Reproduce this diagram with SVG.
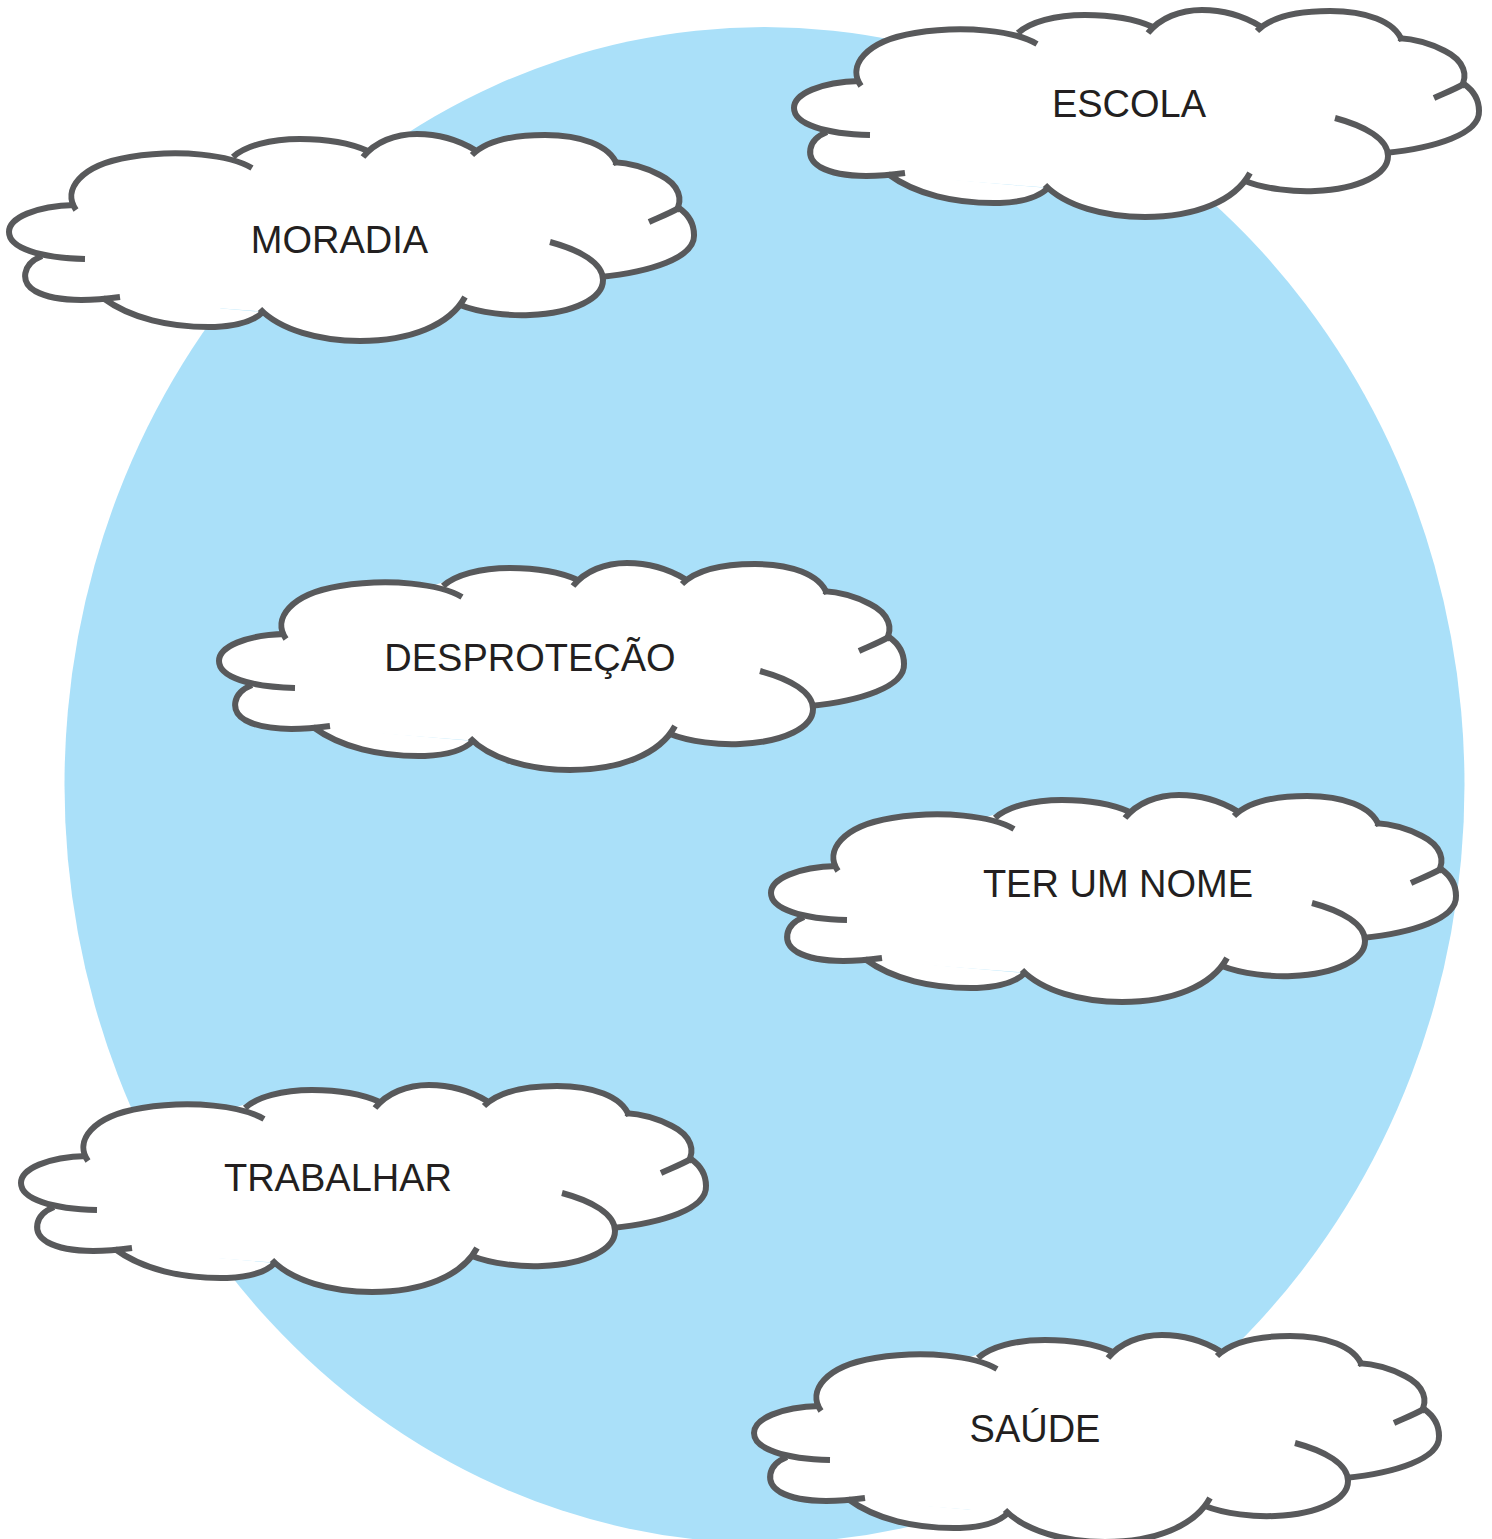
<svg xmlns="http://www.w3.org/2000/svg" xmlns:xlink="http://www.w3.org/1999/xlink" width="1492" height="1539" viewBox="0 0 1492 1539">
<style>
.bg{fill:#aae0f9}
.cf{fill:#ffffff;stroke:#ffffff;stroke-width:3;stroke-linejoin:round}
.cs{fill:none;stroke:#58595b;stroke-width:6}
.lbl{font-family:"Liberation Sans",Arial,sans-serif;font-size:38px;fill:#231f20;text-anchor:middle}
</style>
<defs>
<g id="lobes">
<path d="M76,210 C62,190 80,165 130,157 C180,149 230,155 252,168"/>
<path d="M75,205 C35,206 9,218 9,232 C9,248 40,258 85,259"/>
<path d="M42,256 C22,264 20,282 35,291 C55,302 90,301 120,297"/>
<path d="M103,298 C130,318 170,328 215,327 C240,326 255,320 263,312"/>
<path d="M260,309 C280,330 320,341 360,341 C410,341 450,325 465,297"/>
<path d="M460,305 C480,313 510,316 530,315 C575,313 603,298 603,280 C603,263 580,250 550,242"/>
<path d="M600,277 C650,272 695,258 694,235 C694,223 689,215 679,208 C668,214 660,217 649,222"/>
<path d="M676,211 C683,200 680,185 660,175 C645,167 630,163 613,162"/>
<path d="M617,165 C610,145 580,135 545,135 C510,135 485,142 472,155"/>
<path d="M475,150 C455,138 435,134 417,134 C395,134 375,142 363,157"/>
<path d="M368,151 C350,143 325,139 300,139 C270,139 245,146 233,157"/>
</g>
<g id="cloud">
<g class="cf">
<use xlink:href="#lobes"/>
<polygon points="75,205 40,256 103,298 262,310 462,303 600,277 676,210 615,162 473,149 365,149 233,155"/>
</g>
<use xlink:href="#lobes" class="cs"/>
</g>
</defs>
<ellipse class="bg" cx="764.5" cy="785" rx="700" ry="758"/>
<g id="node-moradia">
<use xlink:href="#cloud"/>
<text class="lbl" x="339.5" y="253">MORADIA</text>
</g>
<g id="node-escola">
<use xlink:href="#cloud" transform="translate(785,-124)"/>
<text class="lbl" x="1129" y="117">ESCOLA</text>
</g>
<g id="node-desprotecao">
<use xlink:href="#cloud" transform="translate(210,429)"/>
<text class="lbl" x="530" y="671">DESPROTEÇÃO</text>
</g>
<g id="node-ter-um-nome">
<use xlink:href="#cloud" transform="translate(762,661)"/>
<text class="lbl" x="1118" y="897">TER UM NOME</text>
</g>
<g id="node-trabalhar">
<use xlink:href="#cloud" transform="translate(12,951)"/>
<text class="lbl" x="338" y="1191">TRABALHAR</text>
</g>
<g id="node-saude">
<use xlink:href="#cloud" transform="translate(745,1201)"/>
<text class="lbl" x="1035" y="1442">SAÚDE</text>
</g>
<g id="connectors"/>
</svg>
